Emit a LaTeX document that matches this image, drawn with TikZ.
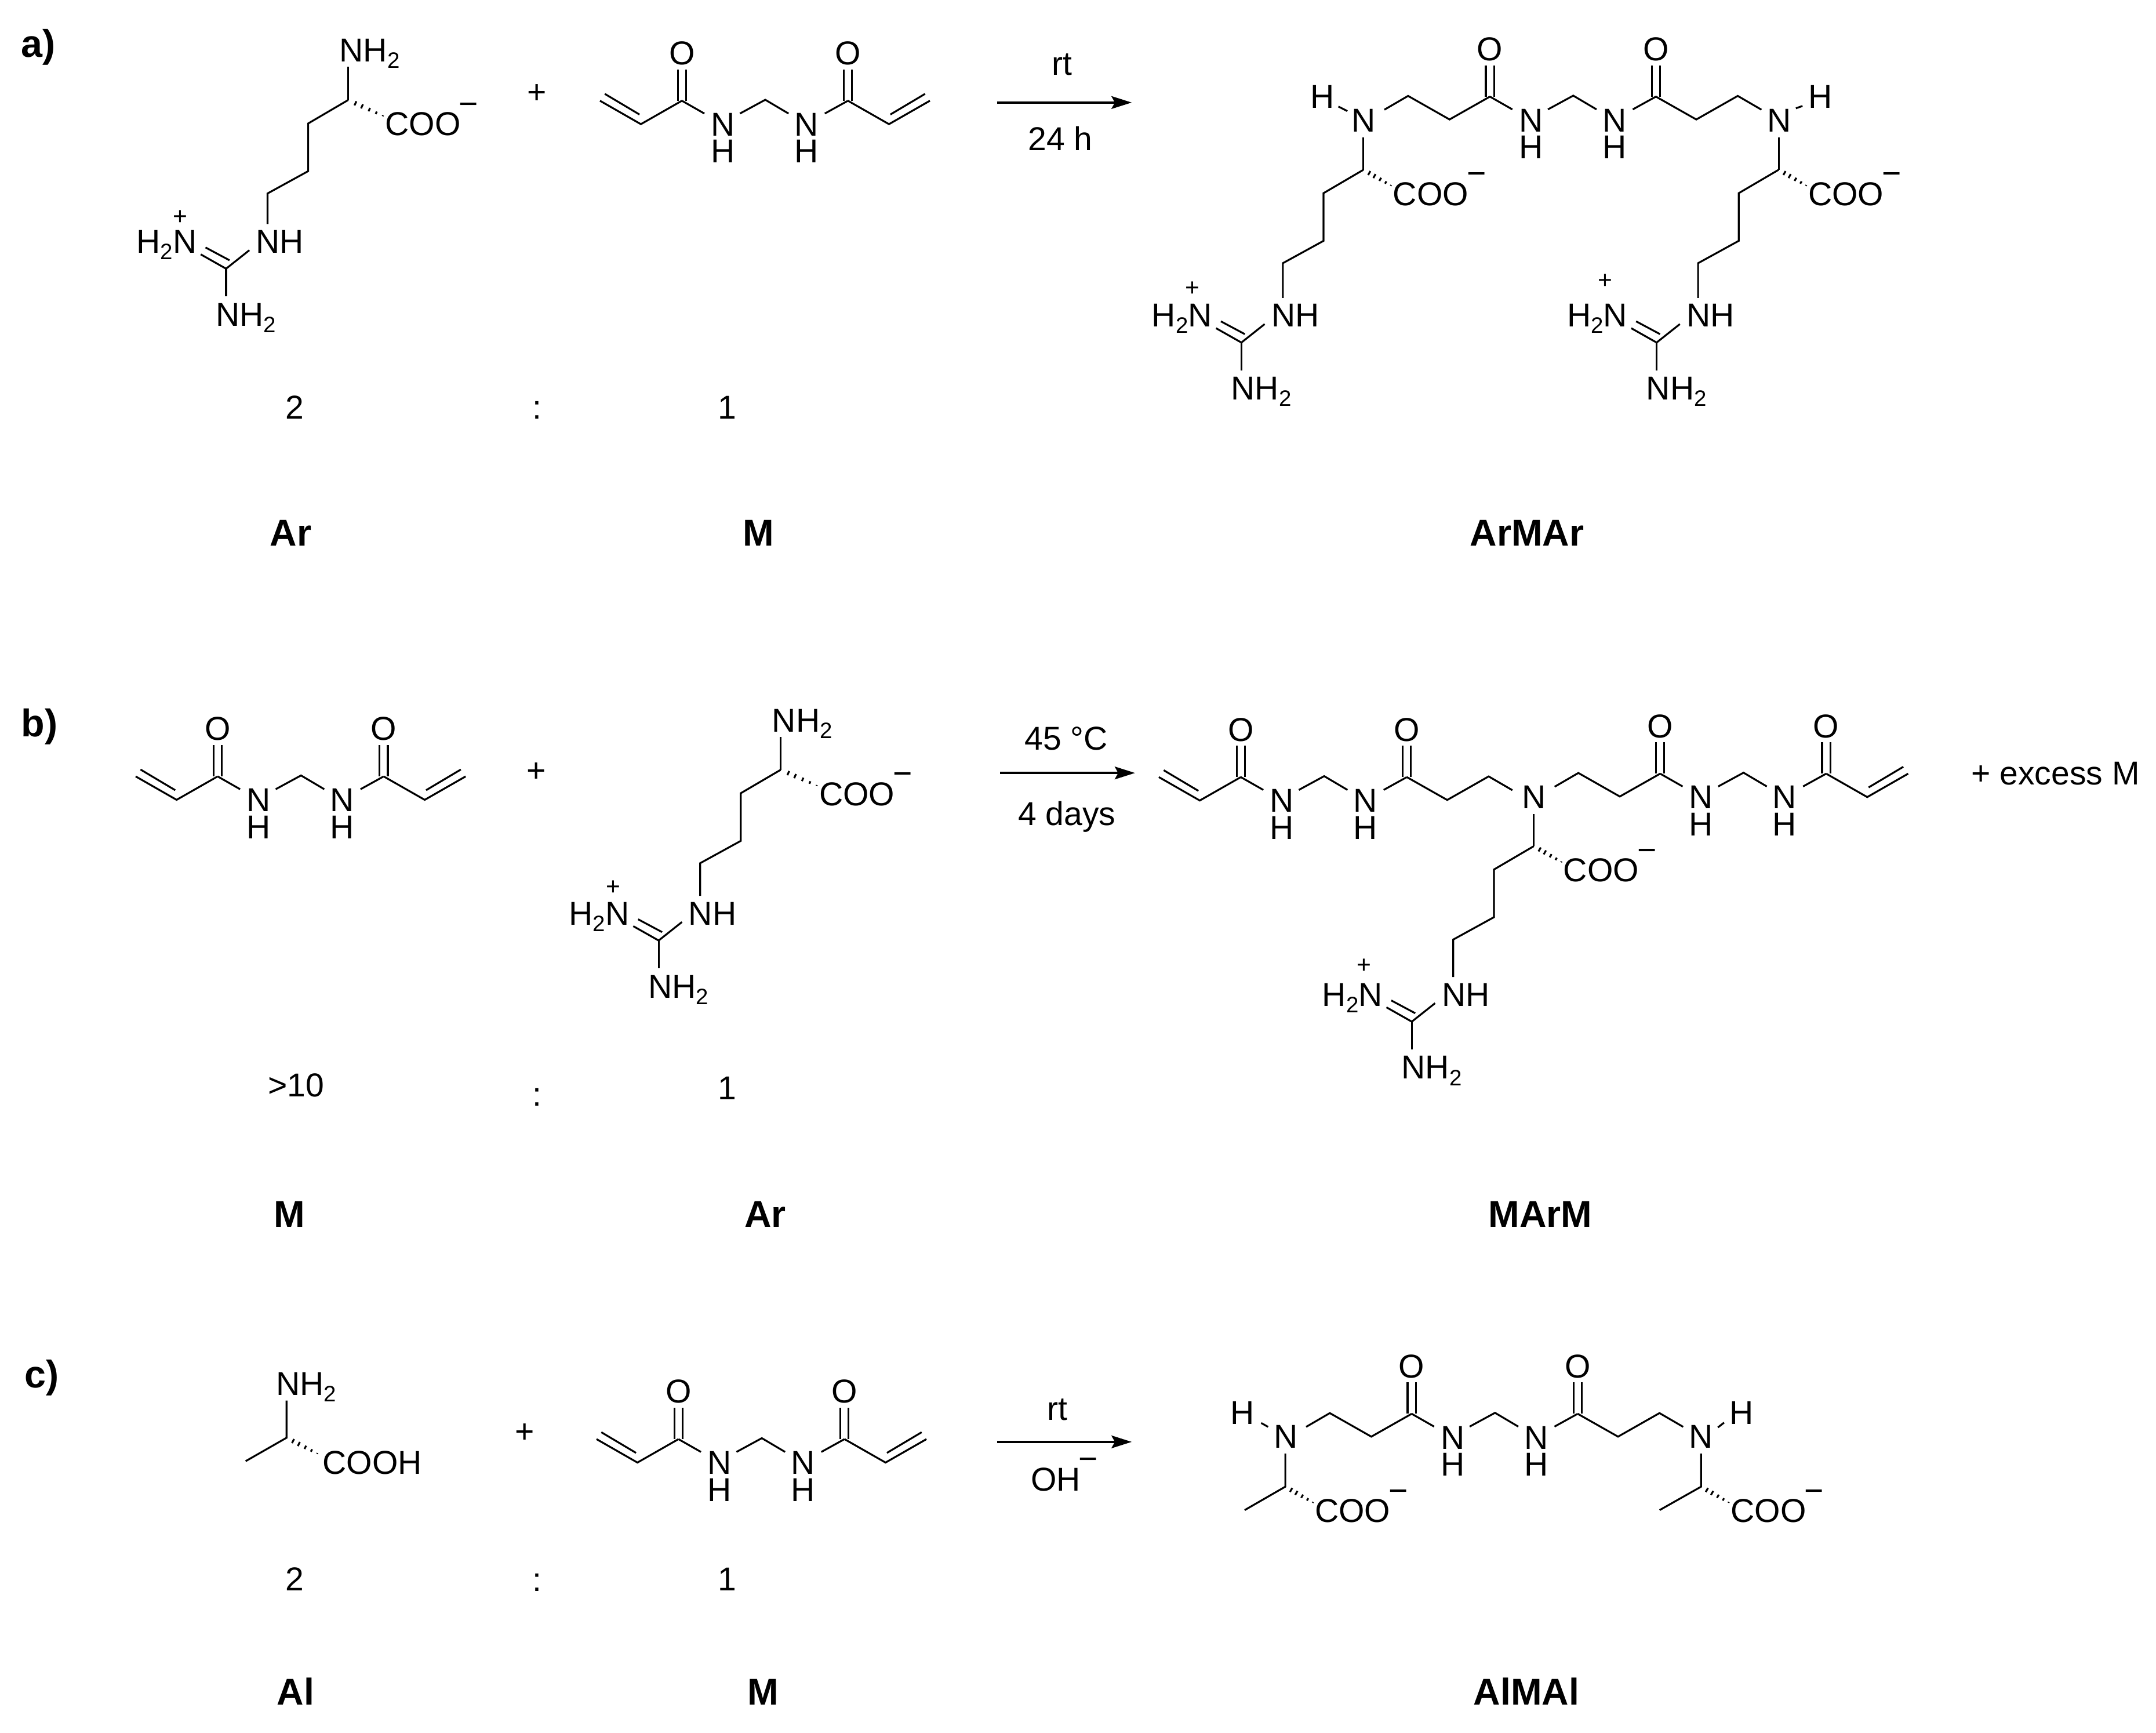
\documentclass[tikz,border=0pt]{standalone}
\usepackage{fontspec}
\setmainfont{Liberation Sans}
\usetikzlibrary{arrows.meta,calc}
\newcommand\atomf{\fontsize{6.83pt}{8pt}\selectfont}
\newcommand\boldf{\fontsize{7.7pt}{9pt}\selectfont\bfseries}
\newcommand\tagf{\fontsize{7.95pt}{9pt}\selectfont\bfseries}
\newcommand\chgf{\fontsize{5.1pt}{6pt}\selectfont}
\newcommand\subtwo{\raisebox{-1.33pt}{\fontsize{4.6pt}{5pt}\selectfont 2}}
\newcommand\hashbond[2]{%
  \foreach \t/\l in {.2/.47pt,.38/.47pt,.58/.38pt,.77/.28pt,.95/.1pt}{%
    \draw[bond] ($(#1)!\t!(#2)!\l!90:(#2)$) -- ($(#1)!\t!(#2)!\l!-90:(#2)$);}}
\tikzset{
  bond/.style={line width=.38pt,line cap=butt,line join=miter},
  rxn/.style={line width=.42pt,-{Stealth[length=.147cm,width=.092cm,inset=.025cm]}},
  atom/.style={inner sep=0pt,outer sep=0pt,anchor=base west,font=\atomf},
  atomc/.style={inner sep=0pt,outer sep=0pt,anchor=base,font=\atomf},
  chg/.style={inner sep=0pt,outer sep=0pt,anchor=base,font=\chgf},
  minus/.style={inner sep=0pt,outer sep=0pt,anchor=base,font=\atomf},
  namelbl/.style={inner sep=0pt,outer sep=0pt,anchor=base,font=\boldf},
  taglbl/.style={inner sep=0pt,outer sep=0pt,anchor=base west,font=\tagf},
  mcore/.pic={
    \coordinate (ch) at (0,0);
    \coordinate (c1) at (-60.5,0.7);
    \coordinate (c2) at (60,0.7);
    \coordinate (e1) at (-44.2,10);
    \coordinate (e2) at (-18.4,10);
    \coordinate (e3) at (16.9,10);
    \coordinate (e4) at (43.2,10);
    \coordinate (t1) at (-60.5,-22);
    \coordinate (t2) at (60,-22);
    \node[atomc] (n1) at (-30.8,26.2) {N};
    \node[atomc] (h1) at (-30.8,45.8) {H};
    \node[atomc] (n2) at (29.8,26.2) {N};
    \node[atomc] (h2) at (29.8,45.8) {H};
    \node[atomc] (o1) at (-60.5,-25.5) {O};
    \node[atomc] (o2) at (60,-25.5) {O};
    \draw[bond] (c1) -- (e1);
    \draw[bond] (e2) -- (ch) -- (e3);
    \draw[bond] (e4) -- (c2);
    \draw[bond] ([xshift=-.85pt]c1) -- ([xshift=-.85pt]t1);
    \draw[bond] ([xshift=.85pt]c1) -- ([xshift=.85pt]t1);
    \draw[bond] ([xshift=-.85pt]c2) -- ([xshift=-.85pt]t2);
    \draw[bond] ([xshift=.85pt]c2) -- ([xshift=.85pt]t2);
  },
  vinyl/.pic={
    \coordinate (p0) at (0,0);
    \coordinate (p1) at (#1*29.8,17);
    \coordinate (p2) at (#1*59.5,0);
    \coordinate (q1) at (#1*30.8,10);
    \coordinate (q2) at (#1*56,-5);
    \draw[bond] (p0) -- (p1) -- (p2);
    \draw[bond] (q1) -- (q2);
  },
  arm/.pic={
    \coordinate (p0) at (0,0);
    \coordinate (p1) at (#1*29.3,16.6);
    \coordinate (p2) at (#1*59.4,-0.5);
    \coordinate (p3) at (#1*76.6,9.5);
    \draw[bond] (p0) -- (p1) -- (p2) -- (p3);
  },
  argtail/.pic={
    \coordinate (a0) at (0,0);
    \coordinate (a1) at (-29,17);
    \coordinate (a2) at (-29,51.6);
    \coordinate (a3) at (-58.5,67.8);
    \coordinate (a4) at (-58.5,{90+#1});
    \coordinate (g1) at (-88.6,{122.4+#1});
    \coordinate (g2) at (-71.7,{109+#1});
    \coordinate (g3) at (-88.6,{142.5+#1});
    \coordinate (g4) at (-103.5,{107+#1});
    \coordinate (g5) at (-86.1,{116.3+#1});
    \coordinate (g6) at (-107,{112+#1});
    \node[atom] (nh) at (-66.8,{111+#1}) {NH};
    \node[atom] (nh3) at (-153.6,{111+#1}) {H\subtwo N};
    \node[atom] (nh2) at (-96,{164+#1}) {NH\subtwo};
    \draw[bond] (a0) -- (a1) -- (a2) -- (a3) -- (a4);
    \draw[bond] (g1) -- (g2);
    \draw[bond] (g1) -- (g3);
    \draw[bond] (g6) -- (g1);
    \draw[bond] (g4) -- (g5);
  },
  coogrp/.pic={
    \coordinate (h0) at (0,0);
    \coordinate (h1) at ({#1-0.5},12);
    \node[atom] (coo) at (#1,25.8) {COO};
    \node[minus] (mi) at ({#1+60.5},11) {\textminus};
    \hashbond{h0}{h1}
  }
}
\begin{document}
\begin{tikzpicture}[x=0.01cm,y=-0.01cm]
\path[use as bounding box,fill=white] (0,0) rectangle (1565,1257.8);

% ---------- a) ----------
\node[taglbl] (taga) at (15.4,41.4) {a)};
\coordinate (ar1) at (252.7,72.6);
\coordinate (ar1top) at (252.7,48.4);
\node[atom] (ar1nh) at (246.5,44.8) {NH\subtwo};
\draw[bond] (ar1top) -- (ar1);
\pic (ar1t) at (ar1) {argtail=0};
\pic (ar1c) at (ar1) {coogrp=27};
\node[chg] (ar1p) at (131,163) {+};
\node[atomc] (pluA) at (389.6,75) {+};
\pic (ma) at (555.5,72.4) {mcore};
\pic (mal) at (mac1) {vinyl=-1};
\pic (mar) at (mac2) {vinyl=1};

\coordinate (ra1) at (723.6,74.4);
\coordinate (ra2) at (821.5,74.4);
\draw[rxn] (ra1) -- (ra2);
\node[atomc] (rat) at (770.7,54.3) {rt};
\node[atomc] (rab) at (769.7,109.1) {24 h};

\pic (pa) at (1142,69.4) {mcore};
\pic (pal) at (pac1) {arm=-1};
\pic (par) at (pac2) {arm=1};
\node[atomc] (pan1) at (989.7,95.9) {N};
\node[atomc] (pah1) at (959.8,78.3) {H};
\coordinate (pab1) at (971.5,77.3);
\coordinate (pab2) at (978,80.6);
\draw[bond] (pab1) -- (pab2);
\coordinate (pad1) at (989.7,99.9);
\coordinate (pac) at (989.7,123.2);
\draw[bond] (pad1) -- (pac);
\pic (pat1) at (pac) {argtail=3};
\pic (pac1g) at (pac) {coogrp=21.5};
\node[chg] (pap1) at (865.5,215) {+};
\node[atomc] (pan2) at (1291.5,95.9) {N};
\node[atomc] (pah2) at (1321.2,78.3) {H};
\coordinate (pab3) at (1303.6,78.6);
\coordinate (pab4) at (1308.4,76.9);
\draw[bond] (pab3) -- (pab4);
\coordinate (pad2) at (1291.1,99.9);
\coordinate (pacr) at (1291.1,123.2);
\draw[bond] (pad2) -- (pacr);
\pic (pat2) at (pacr) {argtail=3};
\pic (pac2g) at (pacr) {coogrp=21.5};
\node[chg] (pap2) at (1165,209.5) {+};

\node[atomc] (na1) at (214,304) {2};
\node[atomc] (na2) at (390,304) {:};
\node[atomc] (na3) at (528,304) {1};
\node[namelbl] (la1) at (211,396) {Ar};
\node[namelbl] (la2) at (550.5,396) {M};
\node[namelbl] (la3) at (1108.5,396) {ArMAr};

% ---------- b) ----------
\node[taglbl] (tagb) at (15.4,534.5) {b)};
\pic (mb) at (218.5,562.8) {mcore};
\pic (mbl) at (mbc1) {vinyl=-1};
\pic (mbr) at (mbc2) {vinyl=1};
\node[atomc] (pluB) at (389.5,567.5) {+};
\coordinate (ar2) at (566.7,558.7);
\coordinate (ar2top) at (566.7,535);
\node[atom] (ar2nh) at (560.5,531.3) {NH\subtwo};
\draw[bond] (ar2top) -- (ar2);
\pic (ar2t) at (ar2) {argtail=1.5};
\pic (ar2c) at (ar2) {coogrp=28};
\node[chg] (ar2p) at (445.3,649.5) {+};

\coordinate (rb1) at (726,561);
\coordinate (rb2) at (823.9,561);
\draw[rxn] (rb1) -- (rb2);
\node[atomc] (rbt) at (774,544.5) {45 °C};
\node[atomc] (rbb) at (774.5,599) {4 days};

\pic (pb1) at (961.2,563.3) {mcore};
\pic (pb2) at (1265.6,560.8) {mcore};
\pic (pbv1) at (pb1c1) {vinyl=-1};
\pic (pbv2) at (pb2c2) {vinyl=1};
\pic (pba1) at (pb1c2) {arm=1};
\pic (pba2) at (pb2c1) {arm=-1};
\node[atomc] (pbn) at (1113.4,586.9) {N};
\coordinate (pbd) at (1113.4,590.9);
\coordinate (pbc) at (1113.4,614.1);
\draw[bond] (pbd) -- (pbc);
\pic (pbt) at (pbc) {argtail=5};
\pic (pbg) at (pbc) {coogrp=21.5};
\node[chg] (pbp) at (990.2,706.5) {+};
\node[atom] (exc) at (1431,569.5) {+ excess M};

\node[atomc] (nb1) at (215,795.8) {>10};
\node[atomc] (nb2) at (390,802.8) {:};
\node[atomc] (nb3) at (528,797.9) {1};
\node[namelbl] (lb1) at (210.2,890.6) {M};
\node[namelbl] (lb2) at (555.5,890.6) {Ar};
\node[namelbl] (lb3) at (1118,890.6) {MArM};

% ---------- c) ----------
\node[taglbl] (tagc) at (18,1007) {c)};
\coordinate (al1) at (208,1043.5);
\coordinate (al1top) at (208,1016.5);
\coordinate (al1me) at (178.3,1060.5);
\coordinate (al1ha) at (231.5,1055.5);
\node[atom] (al1nh) at (200.5,1012.5) {NH\subtwo};
\node[atom] (al1co) at (234.3,1069.8) {COOH};
\draw[bond] (al1top) -- (al1) -- (al1me);
\hashbond{al1}{al1ha}
\node[atomc] (pluC) at (381,1047) {+};
\pic (mc) at (553,1043.8) {mcore};
\pic (mcl) at (mcc1) {vinyl=-1};
\pic (mcr) at (mcc2) {vinyl=1};

\coordinate (rc1) at (723.6,1046.5);
\coordinate (rc2) at (821.5,1046.5);
\draw[rxn] (rc1) -- (rc2);
\node[atomc] (rct) at (767.7,1030.8) {rt};
\node[atom] (rcb) at (748.3,1082.3) {OH};
\node[minus] (rcm) at (790,1067) {\textminus};

\pic (pc) at (1085.2,1025.4) {mcore};
\pic (pcl) at (pcc1) {arm=-1};
\pic (pcr) at (pcc2) {arm=1};
\node[atomc] (pcn1) at (933.5,1051) {N};
\node[atomc] (pch1) at (902,1033.8) {H};
\coordinate (pcb1) at (915.5,1032.8);
\coordinate (pcb2) at (920.5,1035.6);
\draw[bond] (pcb1) -- (pcb2);
\coordinate (pcd1) at (933,1055);
\coordinate (pcc) at (933,1079);
\coordinate (pcme) at (903.5,1096);
\draw[bond] (pcd1) -- (pcc) -- (pcme);
\pic (pcg1) at (pcc) {coogrp=21.5};
\node[atomc] (pcn2) at (1234.8,1051) {N};
\node[atomc] (pch2) at (1264,1033.8) {H};
\coordinate (pcb3) at (1247,1036);
\coordinate (pcb4) at (1251.5,1032.5);
\draw[bond] (pcb3) -- (pcb4);
\coordinate (pcd2) at (1234.8,1055);
\coordinate (pccr) at (1234.8,1079);
\coordinate (pcmer) at (1204.7,1096);
\draw[bond] (pcd2) -- (pccr) -- (pcmer);
\pic (pcg2) at (pccr) {coogrp=21.5};

\node[atomc] (nc1) at (214,1154.5) {2};
\node[atomc] (nc2) at (390,1155) {:};
\node[atomc] (nc3) at (528,1154.5) {1};
\node[namelbl] (lc1) at (214.5,1237.5) {Al};
\node[namelbl] (lc2) at (554,1237.5) {M};
\node[namelbl] (lc3) at (1108,1237.5) {AlMAl};
\end{tikzpicture}
\end{document}
